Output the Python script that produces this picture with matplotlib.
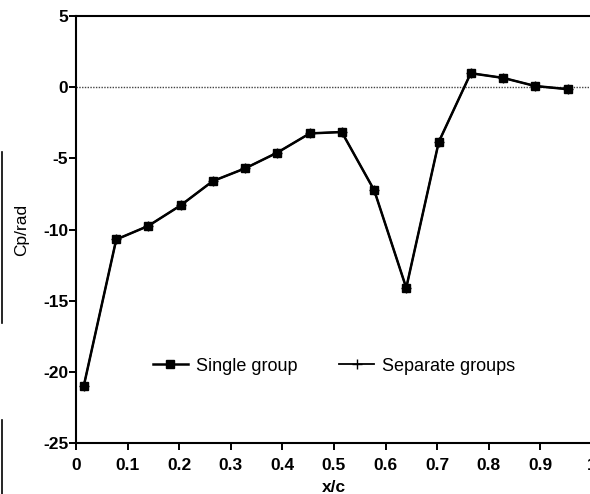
import numpy as np
import matplotlib
matplotlib.use("Agg")
from matplotlib import pyplot as plt
from matplotlib.lines import Line2D

# chordwise stations and Cp/rad
xc = [0.015, 0.078, 0.140, 0.203, 0.265, 0.328, 0.390, 0.453,
      0.515, 0.578, 0.640, 0.703, 0.765, 0.828, 0.890, 0.953]
cp_single = [-21.0, -10.7, -9.75, -8.3, -6.6, -5.7, -4.6, -3.25,
             -3.15, -7.25, -14.1, -3.85, 0.98, 0.65, 0.08, -0.14]
cp_separate = [-21.0, -10.7, -9.75, -8.3, -6.6, -5.7, -4.6, -3.25,
               -3.15, -7.25, -14.1, -3.85, 0.98, 0.65, 0.08, -0.14]

xticks = [0, 0.1, 0.2, 0.3, 0.4, 0.5, 0.6, 0.7, 0.8, 0.9, 1]
xticklabels = ["0", "0.1", "0.2", "0.3", "0.4", "0.5", "0.6", "0.7", "0.8", "0.9", "1"]
yticks = [-25, -20, -15, -10, -5, 0, 5]

plt.rcParams['font.family'] = ['Liberation Sans', 'DejaVu Sans']
plt.rcParams['axes.unicode_minus'] = False

fig = plt.figure(figsize=(5.9, 4.94), dpi=100)
ax = fig.add_axes([0.1288, 0.1032, 0.8746, 0.8644])

ax.plot(xc, cp_separate, color='black', lw=1.3, marker='+', ms=7, mew=1.0,
        label='Separate groups', zorder=3)
ax.plot(xc, cp_single, color='black', lw=1.8, marker='s', ms=5.5,
        label='Single group', zorder=4)

ax.axhline(0, color='#444444', lw=1.0, ls=(0, (1, 1)), zorder=1)

ax.set_xlim(0, 1)
ax.set_ylim(-25, 5)
ax.set_xticks(xticks)
ax.set_xticklabels(xticklabels)
ax.set_yticks(yticks)

for s in ['left', 'bottom', 'top']:
    ax.spines[s].set_linewidth(1.5)
ax.spines['right'].set_visible(False)

ax.tick_params(direction='out', length=5, width=1.4, labelsize=12.5)
ax.tick_params(axis='x', pad=5.5)
ax.tick_params(axis='y', pad=0.5)
for lab in ax.get_xticklabels() + ax.get_yticklabels():
    lab.set_fontweight('bold')

ax.set_xlabel("x/c", fontsize=12.5, fontweight='bold', labelpad=5)
ax.set_ylabel("Cp/rad", fontsize=12.5, labelpad=10)

handles, labels = ax.get_legend_handles_labels()
ax.legend(handles[::-1], labels[::-1], ncol=2, frameon=False, fontsize=13,
          loc='center', bbox_to_anchor=(0.5, 0.18), handlelength=1.95,
          columnspacing=2.3, handletextpad=0.45)

# scanner edge marks on the left of the page
fig.add_artist(Line2D([0.003, 0.003], [1 - 152 / 494, 1 - 323 / 494],
                      color='black', lw=1.2))
fig.add_artist(Line2D([0.003, 0.003], [1 - 420 / 494, 0.0],
                      color='black', lw=1.2))

fig.savefig("out.png", dpi=100)
